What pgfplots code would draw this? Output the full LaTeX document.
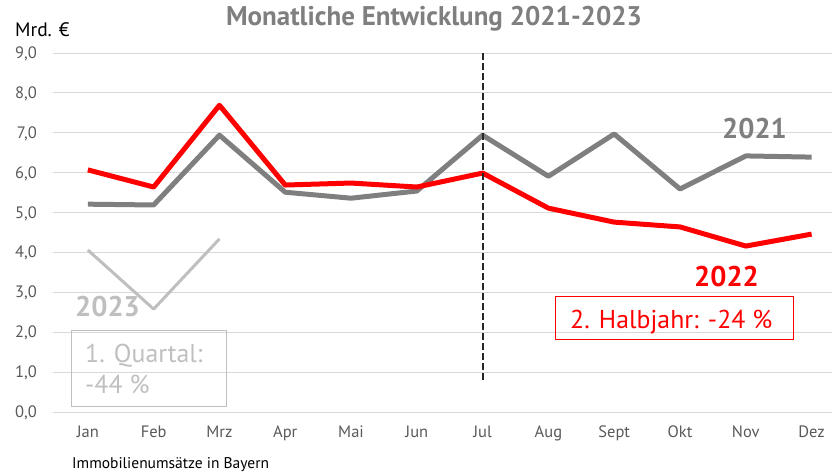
\documentclass[border=0pt]{standalone}
\usepackage{pgfplots}
\pgfplotsset{compat=1.18}
\usepackage{fontspec}
\setmainfont{PT Sans}
\definecolor{cred}{HTML}{FF0000}
\definecolor{cgray}{HTML}{7F7F7F}
\definecolor{clight}{HTML}{BFBFBF}
\definecolor{cgrid}{HTML}{D9D9D9}
\definecolor{ctick}{HTML}{595959}
\begin{document}
\begin{tikzpicture}[x=1pt,y=1pt]
\useasboundingbox (0,0) rectangle (832,474);
\begin{axis}[
  at={(53pt,62pt)}, anchor=south west, scale only axis,
  width=779pt, height=359pt,
  xmin=-0.53, xmax=11.31, ymin=0, ymax=9,
  axis line style={draw=none},
  ymajorgrids, grid style={color=cgrid, line width=1pt},
  major tick length=0pt,
  xtick={0,...,11},
  xticklabels={Jan,Feb,Mrz,Apr,Mai,Jun,Jul,Aug,Sept,Okt,Nov,Dez},
  ytick={0,...,9},
  /pgf/number format/.cd, fixed, fixed zerofill, precision=1, use comma, assume math mode=true,
  /pgfplots/.cd,
  tick label style={font=\fontsize{16.5}{19}\selectfont, text=ctick},
  xticklabel style={inner sep=0pt, anchor=base, yshift=-25pt},
  yticklabel style={inner sep=0pt, anchor=base east, xshift=-16pt, yshift=-5.5pt},
  clip=false,
]
% 2021
\addplot[color=cgray, line width=5pt, line join=round] coordinates {
(0,5.21) (1,5.19) (2,6.94) (3,5.51) (4,5.36) (5,5.54) (6,6.94) (7,5.91) (8,6.97) (9,5.59) (10,6.42) (11,6.39)};
% 2022
\addplot[color=cred, line width=5pt, line join=round] coordinates {
(0,6.07) (1,5.64) (2,7.69) (3,5.69) (4,5.74) (5,5.64) (6,5.99) (7,5.11) (8,4.76) (9,4.64) (10,4.16) (11,4.46)};
% 2023
\addplot[color=clight, line width=3pt, line join=round] coordinates {
(0,4.06) (1,2.58) (2,4.34)};
% divider
\addplot[color=black!85, line width=1.8pt, dash pattern=on 7pt off 3pt] coordinates {(6,0.8) (6,9)};
\end{axis}
% texts
\node[anchor=base, text=cgray, font=\fontsize{27}{30}\selectfont\bfseries, inner sep=0pt] at (434,448) {Monatliche Entwicklung 2021-2023};
\node[anchor=base west, text=black, font=\fontsize{19.5}{22}\selectfont, inner sep=0pt] at (15,437) {Mrd. €};
\node[anchor=base west, text=black, font=\fontsize{15.5}{18}\selectfont, inner sep=0pt] at (72,6) {Immobilienumsätze in Bayern};
\node[anchor=base west, text=cgray, font=\fontsize{28.5}{32}\selectfont\bfseries, inner sep=0pt] at (722,335) {2021};
\node[anchor=base west, text=cred, font=\fontsize{28.5}{32}\selectfont\bfseries, inner sep=0pt] at (694,187) {2022};
\node[anchor=base west, text=clight, font=\fontsize{28.5}{32}\selectfont\bfseries, inner sep=0pt] at (75,157) {2023};
\draw[cred, line width=1pt] (555,134) rectangle (793,177);
\node[anchor=base west, text=cred, font=\fontsize{25.8}{29}\selectfont, inner sep=0pt] at (570,146) {2. Halbjahr: -24 \%};
\draw[clight, line width=1pt] (71,68) rectangle (226,143);
\node[anchor=base west, text=clight, font=\fontsize{25.8}{29}\selectfont, inner sep=0pt] at (85,112) {1. Quartal:};
\node[anchor=base west, text=clight, font=\fontsize{25.8}{29}\selectfont, inner sep=0pt] at (85,81) {-44 \%};
\end{tikzpicture}
\end{document}
